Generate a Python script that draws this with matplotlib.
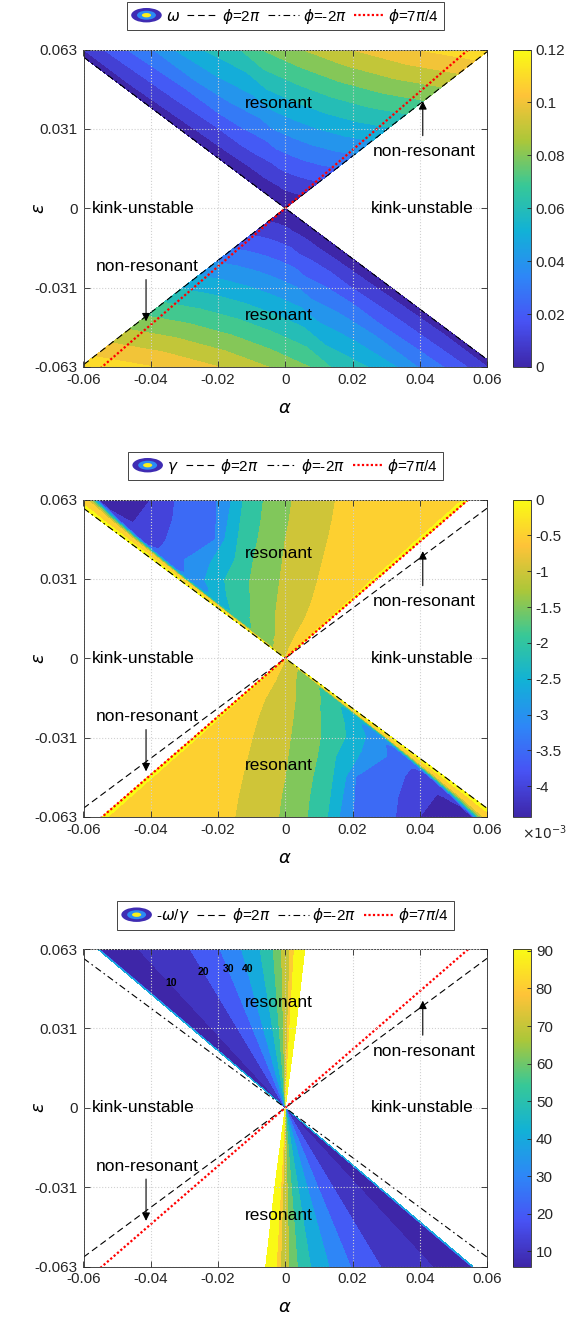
import numpy as np
import matplotlib
matplotlib.use('Agg')
import matplotlib.pyplot as plt
import matplotlib.tri as mtri
from matplotlib.colors import LinearSegmentedColormap, Normalize
from matplotlib.lines import Line2D
from matplotlib.patches import Ellipse
from matplotlib.legend_handler import HandlerBase
from matplotlib.cm import ScalarMappable

plt.rcParams['font.family'] = ['Liberation Sans', 'DejaVu Sans']
plt.rcParams['mathtext.fontset'] = 'dejavusans'

# parula(8)
parula = LinearSegmentedColormap.from_list('parula', [
    (0.2422, 0.1504, 0.6603), (0.2810, 0.3228, 0.9579), (0.1786, 0.5289, 0.9682),
    (0.0689, 0.6948, 0.8394), (0.2161, 0.7843, 0.5923), (0.6720, 0.7793, 0.2227),
    (0.9970, 0.7659, 0.2199), (0.9769, 0.9839, 0.0805)])

# ---------------- data ----------------
alpha_ticks = [-0.06, -0.04, -0.02, 0, 0.02, 0.04, 0.06]
alpha_tick_labels = ['-0.06', '-0.04', '-0.02', '0', '0.02', '0.04', '0.06']
eps_ticks = [-0.063, -0.0315, 0, 0.0315, 0.063]
eps_tick_labels = ['-0.063', '-0.031', '0', '0.031', '0.063']

# slopes eps/alpha of the phi lines, per panel
slope_2pi = [1.035, 0.992, 0.988]
slope_m2pi = [-1.0, -0.992, -0.988]
slope_7pi4 = [1.156, 1.156, 1.156]

# panel 1: omega on the upper resonant wedge
# rows = eps, cols = fraction across the wedge (phi=-2pi side -> phi=2pi side)
omega_eps = [0.063, 0.047, 0.031, 0.016, 0.004, 0.0005]
omega_t = [0, 0.03, 0.08, 0.13, 0.19, 0.24, 0.31, 0.40, 0.45, 0.55, 0.67, 0.83, 1.0]
omega_vals = [
    [0, 0.0126, 0.0214, 0.0302, 0.0397, 0.0498, 0.0599, 0.0699, 0.0800, 0.0901, 0.1002, 0.1103, 0.1178],
    [0, 0.0094, 0.0160, 0.0226, 0.0296, 0.0371, 0.0447, 0.0522, 0.0597, 0.0672, 0.0747, 0.0823, 0.0879],
    [0, 0.0062, 0.0105, 0.0149, 0.0195, 0.0245, 0.0295, 0.0344, 0.0394, 0.0443, 0.0493, 0.0543, 0.0580],
    [0, 0.0032, 0.0054, 0.0077, 0.0101, 0.0126, 0.0152, 0.0178, 0.0203, 0.0229, 0.0254, 0.0280, 0.0299],
    [0, 0.0008, 0.0014, 0.0019, 0.0025, 0.0032, 0.0038, 0.0044, 0.0051, 0.0057, 0.0064, 0.0070, 0.0075],
    [0, 0.0001, 0.0002, 0.0002, 0.0003, 0.0004, 0.0005, 0.0006, 0.0006, 0.0007, 0.0008, 0.0009, 0.0009],
]
omega_levels = [0, 0.01, 0.02, 0.03, 0.04, 0.05, 0.06, 0.07, 0.08, 0.09, 0.1, 0.11, 0.12]

# panel 2: gamma (x1e-3), sampled along rows of constant eps at the given alpha
gamma_eps = [0.063, 0.055, 0.047, 0.039, 0.031, 0.023, 0.016, 0.009, 0.004, 0.0005]
gamma_alpha = [
    [-0.0635, -0.0595, -0.0575, -0.0555, -0.0480, -0.0400, -0.0328, -0.0203,
     -0.0160, -0.0125, -0.0065, 0.0020, 0.0150, 0.0350, 0.0525, 0.0545],
    [-0.0554, -0.0525, -0.0510, -0.0494, -0.0460, -0.0400, -0.0335, -0.0205,
     -0.0170, -0.0133, -0.0072, 0.0012, 0.0140, 0.0310, 0.0458, 0.0476],
    [-0.0474, -0.0452, -0.0440, -0.0428, -0.0405, -0.0375, -0.0345, -0.0209,
     -0.0180, -0.0141, -0.0082, 0.0000, 0.0127, 0.0270, 0.0390, 0.0407],
    [-0.0393, -0.0376, -0.0367, -0.0357, -0.0345, -0.0325, -0.0300, -0.0230,
     -0.0190, -0.0150, -0.0095, -0.0008, 0.0112, 0.0225, 0.0323, 0.0337],
    [-0.0313, -0.0300, -0.0293, -0.0285, -0.0272, -0.0258, -0.0239, -0.0210,
     -0.0180, -0.0140, -0.0105, -0.0016, 0.0097, 0.0180, 0.0255, 0.0268],
    [-0.0232, -0.0222, -0.0217, -0.0211, -0.0202, -0.0193, -0.0180, -0.0165,
     -0.0150, -0.0125, -0.0098, -0.0024, 0.0080, 0.0135, 0.0190, 0.0199],
    [-0.0161, -0.0155, -0.0151, -0.0147, -0.0140, -0.0132, -0.0122, -0.0114,
     -0.0105, -0.0080, -0.0055, -0.0030, 0.0060, 0.0100, 0.0132, 0.0138],
    [-0.00907, -0.0087, -0.0085, -0.0083, -0.0079, -0.0075, -0.0069, -0.0063,
     -0.0056, -0.0043, -0.0030, -0.0016, 0.0030, 0.0055, 0.0074, 0.00779],
    [-0.00403, -0.0039, -0.0038, -0.0037, -0.0035, -0.0033, -0.0029, -0.0026,
     -0.0022, -0.0016, -0.0009, -0.0002, 0.0012, 0.0024, 0.0033, 0.00346],
    [-0.000504, -0.00049, -0.000475, -0.00046, -0.00044, -0.00041, -0.00036, -0.00032,
     -0.00027, -0.0002, -0.00011, -0.00003, 0.00015, 0.0003, 0.000413, 0.000433],
]
gamma_vals = [
    [0.1, -0.2, -1.5, -4.1, -4.4, -4.0, -3.5, -3.0, -2.5, -2.0, -1.5, -1.0, -0.5, -0.25, -0.02, 0.1],
    [0.1, -0.2, -1.5, -3.9, -4.05, -3.85, -3.5, -3.0, -2.5, -2.0, -1.5, -1.0, -0.5, -0.25, -0.02, 0.1],
    [0.1, -0.2, -1.5, -3.6, -3.7, -3.6, -3.45, -3.0, -2.5, -2.0, -1.5, -1.0, -0.5, -0.25, -0.02, 0.1],
    [0.1, -0.25, -1.6, -3.2, -3.25, -3.15, -3.0, -2.6, -2.3, -2.0, -1.5, -1.0, -0.5, -0.25, -0.02, 0.1],
    [0.1, -0.3, -1.8, -2.8, -2.85, -2.75, -2.5, -2.2, -2.0, -1.75, -1.5, -1.0, -0.5, -0.25, -0.02, 0.1],
    [0.1, -0.35, -1.7, -2.25, -2.3, -2.25, -2.1, -1.95, -1.85, -1.65, -1.45, -1.0, -0.5, -0.25, -0.02, 0.1],
    [0.1, -0.4, -1.4, -1.75, -1.8, -1.75, -1.65, -1.58, -1.5, -1.35, -1.2, -1.0, -0.5, -0.25, -0.02, 0.1],
    [0.1, -0.4, -1.1, -1.3, -1.33, -1.32, -1.28, -1.24, -1.2, -1.1, -1.0, -0.9, -0.5, -0.25, -0.02, 0.1],
    [0.1, -0.4, -0.85, -0.95, -0.98, -0.98, -0.95, -0.92, -0.9, -0.8, -0.72, -0.65, -0.5, -0.25, -0.02, 0.1],
    [0.1, -0.3, -0.6, -0.7, -0.7, -0.7, -0.7, -0.68, -0.66, -0.62, -0.58, -0.55, -0.45, -0.25, -0.02, 0.1],
]
gamma_levels = [-4.43, -4, -3.5, -3, -2.5, -2, -1.5, -1, -0.5, 0, 0.2]

# panel 3: -omega/gamma, constant along rays; alpha positions at eps = 0.063
ratio_alpha_top = [-0.0558, -0.0553, -0.0437, -0.0283, -0.0194, -0.0130,
                   -0.0075, -0.0036, -0.0011, 0.0014, 0.0027, 0.0054, 0.0062]
ratio_vals = [45, 7, 10, 20, 30, 40, 50, 60, 70, 80, 90, 99, 101]
ratio_eps = [0.063, 0.0005]
ratio_levels = [6, 10, 20, 30, 40, 50, 60, 70, 80, 90, 100]
ratio_label_pos = [(-0.0338, 0.0494, '10'), (-0.0244, 0.0540, '20'),
                   (-0.0169, 0.0549, '30'), (-0.0113, 0.0549, '40')]

cbar_ranges = [(0, 0.12), (-4.43, 0), (6, 90.5)]
cbar_ticks = [[0, 0.02, 0.04, 0.06, 0.08, 0.1, 0.12],
              [-4, -3.5, -3, -2.5, -2, -1.5, -1, -0.5, 0],
              [10, 20, 30, 40, 50, 60, 70, 80, 90]]
cbar_labels = [['0', '0.02', '0.04', '0.06', '0.08', '0.1', '0.12'],
               ['-4', '-3.5', '-3', '-2.5', '-2', '-1.5', '-1', '-0.5', '0'],
               ['10', '20', '30', '40', '50', '60', '70', '80', '90']]
legend_first = [r'$\omega$', r'$\gamma$', r'-$\omega$/$\gamma$']


def wedge_triangulation(alpha_grid, eps_rows, vals):
    a = np.asarray(alpha_grid)
    e = np.repeat(np.asarray(eps_rows)[:, None], a.shape[1], axis=1)
    v = np.asarray(vals, dtype=float)
    nr, nc = a.shape
    tris = []
    for i in range(nr - 1):
        for j in range(nc - 1):
            k = i * nc + j
            tris.append([k, k + 1, k + nc])
            tris.append([k + 1, k + nc + 1, k + nc])
    tris = np.array(tris)
    n = nr * nc
    x = np.concatenate([a.ravel(), -a.ravel()])      # point-symmetric lower wedge
    y = np.concatenate([e.ravel(), -e.ravel()])
    z = np.concatenate([v.ravel(), v.ravel()])
    return mtri.Triangulation(x, y, np.vstack([tris, tris + n])), z


def grid_from_t(t, eps_rows, s_left, s_right):
    t = np.asarray(t)
    rows = []
    for e in eps_rows:
        aL, aR = e / s_left, e / s_right
        rows.append(aL + t * (aR - aL))
    return np.array(rows)


class ContourKey:
    pass


class ContourIcon(HandlerBase):
    def create_artists(self, legend, orig_handle, xdescent, ydescent, width, height, fontsize, trans):
        cx, cy = width / 2 - xdescent, height / 2 - ydescent
        arts = []
        for f, c in [(1.0, parula(0.02)), (0.62, parula(0.3)), (0.3, parula(0.97))]:
            arts.append(Ellipse((cx, cy), width * f, height * 1.35 * f, facecolor=c,
                                edgecolor='none', transform=trans))
        return arts


fig = plt.figure(figsize=(5.74, 13.23), dpi=100)
W, H = 574.0, 1323.0
tops = [49.5, 499.5, 949.0]

fields = [
    (grid_from_t(omega_t, omega_eps, slope_m2pi[0], slope_2pi[0]), omega_eps, omega_vals, omega_levels),
    (np.array(gamma_alpha), gamma_eps, gamma_vals, gamma_levels),
    (np.array([np.asarray(ratio_alpha_top) * e / 0.063 for e in ratio_eps]), ratio_eps,
     [ratio_vals, ratio_vals], ratio_levels),
]

for p in range(3):
    top = tops[p]
    ax = fig.add_axes([83.5 / W, 1 - (top + 317.5) / H, 403.5 / W, 317.5 / H])
    cax = fig.add_axes([513 / W, 1 - (top + 317.5) / H, 18 / W, 317.5 / H])

    agrid, erows, vals, levels = fields[p]
    tri, z = wedge_triangulation(agrid, erows, vals)
    vmin, vmax = cbar_ranges[p]
    norm = Normalize(vmin, vmax)
    colors = [parula(min(norm(l), 1.0)) for l in levels[:-1]]
    ax.tricontourf(tri, z, levels=levels, colors=colors)

    xs = np.array([-0.06, 0.06])
    ax.plot(xs, slope_2pi[p] * xs, color='k', lw=0.8, dashes=(6, 3.5))
    ax.plot(xs, slope_m2pi[p] * xs, color='k', lw=0.8, dashes=(6, 3, 1.5, 3))
    ax.plot(xs, slope_7pi4[p] * xs, color='red', lw=1.6, dashes=(1, 1))

    ax.set_xlim(-0.06, 0.06)
    ax.set_ylim(-0.063, 0.063)
    ax.set_xticks(alpha_ticks)
    ax.set_xticklabels(alpha_tick_labels)
    ax.set_yticks(eps_ticks)
    ax.set_yticklabels(eps_tick_labels)
    ax.tick_params(direction='in', top=True, right=True, length=4, width=0.6,
                   color='0.15', labelcolor='0.15', labelsize=11, pad=4)
    for sp in ax.spines.values():
        sp.set_color('0.15')
        sp.set_linewidth(0.6)
    ax.set_axisbelow(False)
    ax.grid(True, linestyle=':', color='0.82', linewidth=0.8)
    ax.set_xlabel(r'$\alpha$', fontsize=13, va='center')
    ax.xaxis.set_label_coords(0.5, -0.13)
    ax.set_ylabel(r'$\epsilon$', fontsize=13, va='center')
    ax.yaxis.set_label_coords(-0.108, 0.5)

    txt = dict(fontsize=12.5, color='k', va='center')
    ax.text(-0.012, 0.0416, 'resonant', **txt)
    ax.text(-0.012, -0.0427, 'resonant', **txt)
    ax.text(-0.0574, 0.0, 'kink-unstable', **txt)
    ax.text(0.0254, 0.0, 'kink-unstable', **txt)
    ax.text(0.0259, 0.0224, 'non-resonant', **txt)
    ax.text(-0.0563, -0.0232, 'non-resonant', **txt)
    ax.annotate('', xy=(0.0409, 0.0436), xytext=(0.0409, 0.0277),
                arrowprops=dict(arrowstyle='-|>', color='k', lw=0.8, mutation_scale=12))
    ax.annotate('', xy=(-0.0414, -0.046), xytext=(-0.0414, -0.0272),
                arrowprops=dict(arrowstyle='-|>', color='k', lw=0.8, mutation_scale=12))
    if p == 2:
        for a, e, s in ratio_label_pos:
            ax.text(a, e, s, fontsize=7.5, fontweight='bold', ha='center', va='center')

    handles = [ContourKey(),
               Line2D([], [], color='k', lw=0.8, dashes=(6, 3.5)),
               Line2D([], [], color='k', lw=0.8, dashes=(6, 3, 1.5, 3)),
               Line2D([], [], color='red', lw=1.6, dashes=(1, 1))]
    labels = [legend_first[p], r'$\phi$=2$\pi$', r'$\phi$=-2$\pi$', r'$\phi$=7$\pi$/4']
    leg = ax.legend(handles, labels, handler_map={ContourKey: ContourIcon()},
                    loc='lower center', bbox_to_anchor=(0.5, 1.061), ncol=4,
                    fontsize=11, handlelength=2.0, handletextpad=0.25, columnspacing=0.5,
                    borderpad=0.3, borderaxespad=0, fancybox=False, framealpha=1)
    leg.get_frame().set_edgecolor('0.15')
    leg.get_frame().set_linewidth(0.6)

    sm = ScalarMappable(norm=norm, cmap=parula)
    cb = fig.colorbar(sm, cax=cax)
    cb.set_ticks(cbar_ticks[p])
    cb.set_ticklabels(cbar_labels[p])
    cb.outline.set_edgecolor('0.15')
    cb.outline.set_linewidth(0.6)
    cax.tick_params(direction='in', length=3, width=0.6, color='0.15',
                    labelcolor='0.15', labelsize=11)
    if p == 1:
        cax.text(0.5, -0.02, r'$\times10^{-3}$', transform=cax.transAxes,
                 fontsize=10, ha='left', va='top', color='0.15')

fig.savefig('out.png', dpi=100)
